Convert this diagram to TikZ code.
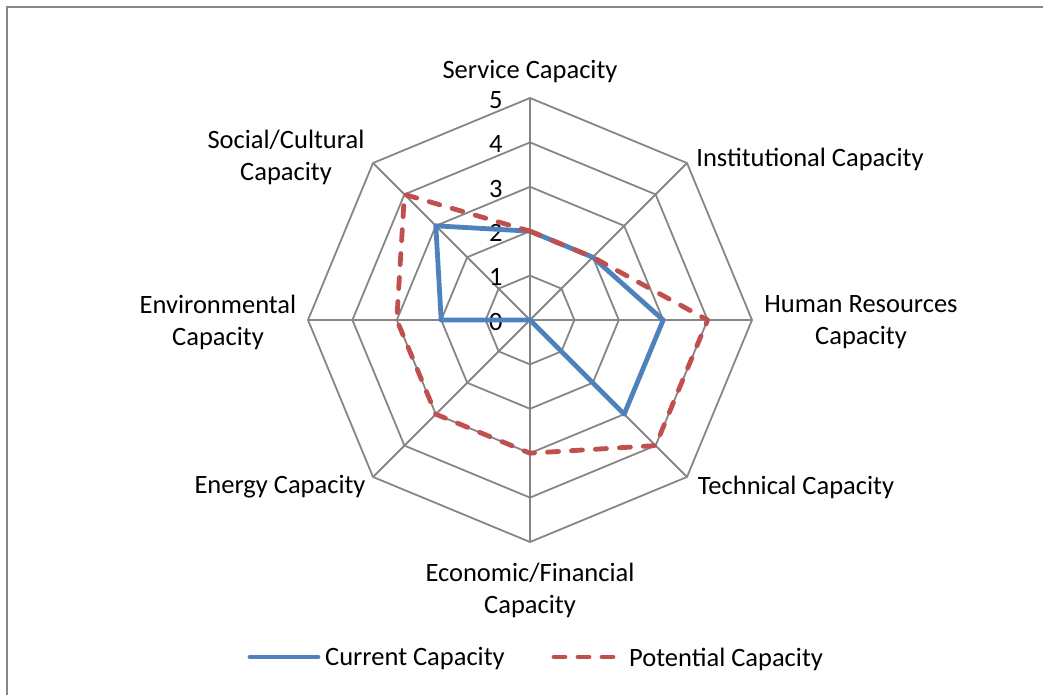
\documentclass[tikz,border=0pt]{standalone}
\usepackage{fontspec}
\setmainfont{Carlito}
\usetikzlibrary{positioning, calc}

\definecolor{gridgray}{RGB}{134,134,134}
\definecolor{curblue}{RGB}{79,129,189}
\definecolor{potred}{RGB}{192,80,77}

\begin{document}
\begin{tikzpicture}[x=1pt, y=1pt, font=\fontsize{26.5}{32}\selectfont,
    grid/.style={draw=gridgray, line width=1.8pt},
    current/.style={draw=curblue, line width=4.8pt, line join=round},
    potential/.style={draw=potred, line width=4.8pt, line cap=round, line join=round,
      dash pattern=on 11pt off 13pt},
    axislabel/.style={align=center, inner sep=0pt}]
  \useasboundingbox (0,0) rectangle (1043,694);
  \draw[gridgray, line width=2.2pt] (7,-10) -- (7,687) -- (1060,687);
  \coordinate (c) at (530,374);

  \begin{scope}[shift={(c)}, x=44.4pt, y=44.4pt]
    % rings and spokes
    \foreach \r in {1,...,5}
      \draw[grid] (90:\r) \foreach \a in {45,0,-45,-90,-135,-180,-225} {-- (\a:\r)} -- cycle;
    \foreach \a [count=\i] in {90,45,0,-45,-90,-135,-180,-225} {
      \coordinate (ax\i) at (\a:5);
      \draw[grid] (0,0) -- (ax\i);
    }
    % scale
    \foreach \r in {0,...,5}
      \node (tick\r) at (-0.77,\r-0.04) {\r};
    % data
    \foreach \a/\v [count=\i] in {90/2, 45/2, 0/3, -45/3, -90/0, -135/0, -180/2, -225/3}
      \coordinate (cur\i) at (\a:\v);
    \foreach \a/\v [count=\i] in {90/2, 45/2, 0/4, -45/4, -90/3, -135/3, -180/3, -225/4}
      \coordinate (pot\i) at (\a:\v);
    \draw[current] (cur1) -- (cur2) -- (cur3) -- (cur4) -- (cur5) -- (cur6) -- (cur7) -- (cur8) -- cycle;
    \draw[potential] (pot1) -- (pot2) -- (pot3) -- (pot4) -- (pot5) -- (pot6) -- (pot7) -- (pot8) -- cycle;
  \end{scope}

  % axis labels
  \node[axislabel] (service) at (530,622) {Service Capacity};
  \node[axislabel] (institutional) at (810,535) {Institutional Capacity};
  \node[axislabel] (human) at (861,372) {Human Resources\\Capacity};
  \node[axislabel] (technical) at (796,207) {Technical Capacity};
  \node[axislabel] (economic) at (530,104) {Economic/Financial\\Capacity};
  \node[axislabel] (energy) at (280,207) {Energy Capacity};
  \node[axislabel] (environmental) at (218,372) {Environmental\\Capacity};
  \node[axislabel] (social) at (286,537) {Social/Cultural\\Capacity};

  % legend
  \coordinate (curA) at (250,37);
  \coordinate (curB) at (318,37);
  \draw[current, line cap=round] (curA) -- (curB);
  \node[anchor=west, inner sep=0pt] (curtext) at (325,35) {Current Capacity};
  \coordinate (potA) at (554,37);
  \coordinate (potB) at (615,37);
  \draw[potential] (potA) -- (potB);
  \node[anchor=west, inner sep=0pt] (pottext) at (629,35) {Potential Capacity};
\end{tikzpicture}
\end{document}
